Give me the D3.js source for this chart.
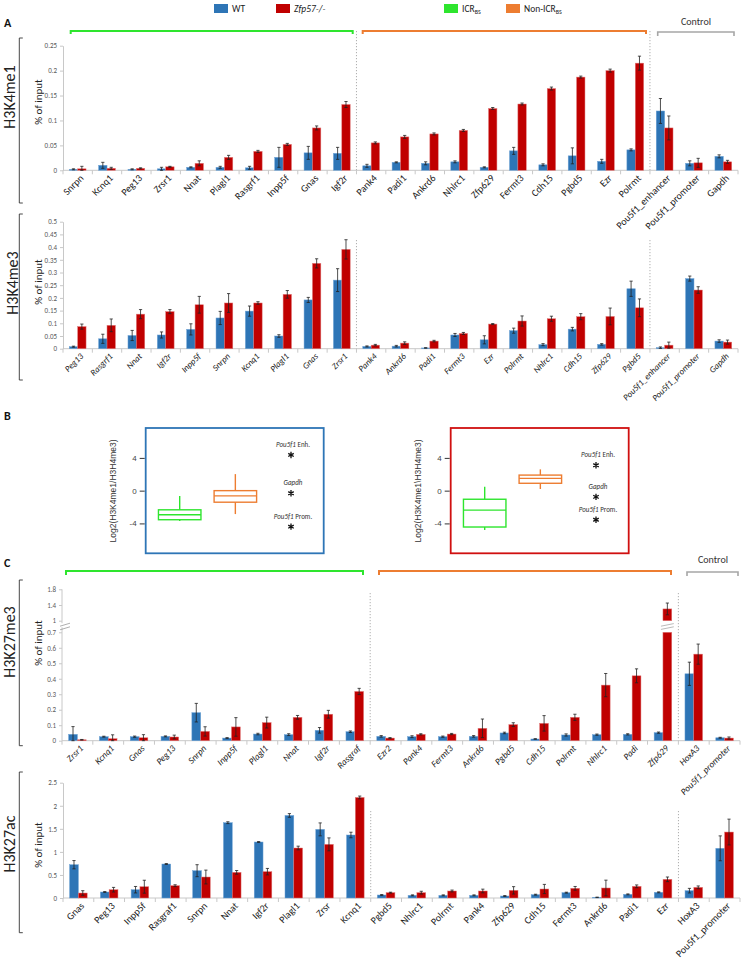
<!DOCTYPE html>
<html><head><meta charset="utf-8">
<script src="https://cdn.jsdelivr.net/npm/d3@7"></script>
<style>body{margin:0;background:#fff}svg{display:block}</style>
</head><body><svg id="c" width="742" height="961"></svg>
<script>
// ---------- DATA ----------
const seriesNames = ["WT", "Zfp57-/-"];
const groupNames = ["ICR", "Non-ICR"];

// Panel A – H3K4me1
const k4me1Cats = ["Snrpn","Kcnq1","Peg13","Zrsr1","Nnat","Plagl1","Rasgrf1","Inpp5f","Gnas","Igf2r","Pank4","Padi1","Ankrd6","Nhlrc1","Zfp629","Fermt3","Cdh15","Pgbd5","Ezr","Polrmt","Pou5f1_enhancer","Pou5f1_promoter","Gapdh"];
const k4me1WT = [0.002,0.010,0.002,0.003,0.006,0.006,0.005,0.026,0.035,0.034,0.009,0.016,0.014,0.017,0.006,0.039,0.011,0.029,0.018,0.041,0.119,0.014,0.028];
const k4me1WTErr = [0.001,0.006,0.001,0.003,0.001,0.002,0.003,0.020,0.013,0.012,0.003,0.001,0.003,0.002,0.001,0.007,0.002,0.016,0.004,0.002,0.025,0.005,0.003];
const k4me1KO = [0.003,0.004,0.004,0.007,0.014,0.026,0.038,0.052,0.085,0.132,0.055,0.067,0.073,0.080,0.124,0.133,0.164,0.187,0.200,0.215,0.085,0.015,0.017];
const k4me1KOErr = [0.005,0.002,0.001,0.001,0.005,0.004,0.002,0.002,0.004,0.006,0.002,0.003,0.002,0.002,0.002,0.002,0.003,0.002,0.003,0.014,0.024,0.009,0.003];
const k4me1Ticks = [0,0.05,0.1,0.15,0.2,0.25];

// Panel A – H3K4me3
const k4me3Cats = ["Peg13","Rasgrf1","Nnat","Igf2r","Inpp5f","Snrpn","Kcnq1","Plagl1","Gnas","Zrsr1","Pank4","Ankrd6","Padi1","Fermt3","Ezr","Polrmt","Nhlrc1","Cdh15","Zfp629","Pgbd5","Pou5f1_enhancer","Pou5f1_promoter","Gapdh"];
const k4me3WT = [0.008,0.039,0.052,0.054,0.076,0.121,0.148,0.050,0.192,0.270,0.009,0.010,0.003,0.054,0.035,0.071,0.016,0.077,0.017,0.236,0.004,0.276,0.030];
const k4me3WTErr = [0.002,0.018,0.020,0.012,0.022,0.026,0.020,0.005,0.010,0.045,0.002,0.003,0.001,0.006,0.016,0.010,0.004,0.007,0.003,0.030,0.003,0.010,0.005];
const k4me3KO = [0.087,0.092,0.136,0.146,0.173,0.180,0.180,0.214,0.336,0.391,0.014,0.022,0.030,0.060,0.097,0.109,0.118,0.126,0.127,0.161,0.014,0.231,0.026];
const k4me3KOErr = [0.010,0.025,0.018,0.008,0.033,0.037,0.005,0.015,0.018,0.038,0.003,0.005,0.003,0.004,0.002,0.020,0.010,0.012,0.033,0.035,0.012,0.013,0.008];
const k4me3Ticks = [0,0.05,0.1,0.15,0.2,0.25,0.3,0.35,0.4,0.45,0.5];

// Panel B – log2(H3K4me1/H3K4me3): [min, q1, median, q3, max]
const bWtICR = [-3.7,-3.55,-2.95,-2.34,-0.64];
const bWtNonICR = [-2.86,-1.41,-0.64,0.0,2.02];
const bKoICR = [-4.8,-4.44,-2.38,-1.05,0.49];
const bKoNonICR = [0.2,0.9,1.5,1.9,2.6];
const bCtrlNames = ["Enh.","Gapdh","Prom."];
const bWtCtrl = [4.36,-0.32,-4.4];
const bKoCtrl = [3.1,-0.76,-3.55];
const bTicks = [-4,0,4];

// Panel C – H3K27me3
const k27me3Cats = ["Zrsr1","Kcnq1","Gnas","Peg13","Snrpn","Inpp5f","Plagl1","Nnat","Igf2r","Rasgraf","Ezr2","Pank4","Fermt3","Ankrd6","Pgbd5","Cdh15","Polrmt","Nhlrc1","Padi","Zfp629","HoxA3","Pou5f1_promoter"];
const k27me3WT = [0.041,0.026,0.026,0.028,0.181,0.017,0.043,0.039,0.067,0.058,0.028,0.026,0.026,0.028,0.050,0.011,0.037,0.039,0.041,0.052,0.432,0.019];
const k27me3WTErr = [0.050,0.003,0.004,0.003,0.060,0.003,0.005,0.006,0.018,0.005,0.005,0.006,0.004,0.005,0.005,0.002,0.007,0.004,0.004,0.004,0.075,0.003];
const k27me3KO = [0.006,0.013,0.019,0.024,0.060,0.089,0.117,0.151,0.171,0.318,0.017,0.041,0.043,0.080,0.104,0.112,0.151,0.359,0.419,1.30,0.559,0.017];
const k27me3KOErr = [0.002,0.025,0.020,0.012,0.030,0.060,0.035,0.012,0.025,0.020,0.003,0.004,0.004,0.060,0.012,0.050,0.020,0.075,0.045,0.150,0.065,0.007];
const k27me3LowTicks = [0,0.1,0.2,0.3,0.4,0.5,0.6,0.7];
const k27me3HighTicks = [1,1.4,1.8];

// Panel C – H3K27ac
const k27acCats = ["Gnas","Peg13","Inpp5f","Rasgraf1","Snrpn","Nnat","Igf2r","Plagl1","Zrsr","Kcnq1","Pgbd5","Nhlrc1","Polrmt","Pank4","Zfp629","Cdh15","Fermt3","Ankrd6","Padi1","Ezr","HoxA3","Pou5f1_promoter"];
const k27acWT = [0.722,0.13,0.18,0.737,0.592,1.633,1.214,1.79,1.488,1.366,0.065,0.058,0.058,0.058,0.043,0.072,0.116,0.014,0.079,0.123,0.159,1.077];
const k27acWTErr = [0.09,0.01,0.07,0.01,0.13,0.02,0.01,0.04,0.14,0.06,0.01,0.01,0.01,0.01,0.01,0.01,0.01,0.005,0.01,0.01,0.05,0.27];
const k27acKO = [0.108,0.18,0.245,0.267,0.455,0.556,0.571,1.084,1.163,2.18,0.116,0.116,0.152,0.152,0.166,0.195,0.21,0.217,0.253,0.405,0.231,1.43];
const k27acKOErr = [0.05,0.05,0.14,0.02,0.15,0.04,0.07,0.04,0.14,0.03,0.01,0.03,0.02,0.04,0.08,0.1,0.04,0.17,0.03,0.05,0.03,0.28];
const k27acTicks = [0,0.5,1,1.5,2,2.5];

// ---------- STYLE ----------
const FONT = "Carlito, Lato, 'Liberation Sans', sans-serif";
const WT_C = "#2E75B6", KO_C = "#C00000";
const GREEN = "#2ee52e", ORANGE = "#ED7D31", GRAY = "#a6a6a6", AXIS = "#c8c8c8", TICKTXT = "#595959";

const svg = d3.select("#c").style("font-family", FONT);

function hBracket(x1, x2, y, color, w, drop) {
  svg.append("path").attr("d", `M${x1},${y + drop}V${y}H${x2}V${y + drop}`)
    .attr("fill", "none").attr("stroke", color).attr("stroke-width", w);
}
function leftBracket(x, y1, y2) {
  svg.append("path").attr("d", `M${x + 3.5},${y1}H${x}V${y2}H${x + 3.5}`)
    .attr("fill", "none").attr("stroke", "#333").attr("stroke-width", 0.9);
}
function rotText(x, y, txt, size) {
  svg.append("text").attr("transform", `translate(${x},${y}) rotate(-90)`)
    .attr("text-anchor", "middle").attr("font-size", size).attr("fill", "#222").text(txt);
}

function barPanel(o) {
  const g = svg.append("g");
  const x = d3.scaleBand().domain(o.cats).range([o.x0, o.x1]);
  const xs = d3.scaleBand().domain(seriesNames).range([0, x.bandwidth()]).paddingOuter(0.75);
  const yLow = o.yLow, yHigh = o.yHigh;
  const lowMax = yLow.domain()[1];
  const yMap = v => (yHigh && v > lowMax) ? yHigh(Math.max(v, yHigh.domain()[0])) : yLow(v);
  const base = yLow(0);

  // separators
  [10, 20].forEach(i => {
    const sx = x(o.cats[i]);
    g.append("line").attr("x1", sx).attr("x2", sx).attr("y1", o.sepTop).attr("y2", base)
      .attr("stroke", "#9a9a9a").attr("stroke-width", 0.8).attr("stroke-dasharray", "1.2,1.8");
  });

  // y axis
  const ax = d3.axisLeft(yLow).tickValues(o.lowTicks).tickSize(3).tickSizeOuter(0)
    .tickFormat(d => String(d));
  const ag = g.append("g").attr("transform", `translate(${o.x0},0)`).call(ax);
  if (yHigh) {
    const ag2 = g.append("g").attr("transform", `translate(${o.x0},0)`)
      .call(d3.axisLeft(yHigh).tickValues(o.highTicks).tickSize(3).tickSizeOuter(0).tickFormat(d => String(d)));
    [ag, ag2].forEach(a => a.select(".domain").remove());
    g.append("line").attr("x1", o.x0).attr("x2", o.x0).attr("y1", yHigh.range()[1]).attr("y2", yHigh.range()[0] + 2.5)
      .attr("stroke", AXIS);
    g.append("line").attr("x1", o.x0).attr("x2", o.x0).attr("y1", yLow.range()[1] - 5).attr("y2", base)
      .attr("stroke", AXIS);
    const my = (yHigh.range()[0] + yLow.range()[1]) / 2;
    [-1.8, 1.8].forEach(d => g.append("line").attr("x1", o.x0 - 2).attr("x2", o.x0 + 8)
      .attr("y1", my + d + 1.5).attr("y2", my + d - 1.5).attr("stroke", "#999").attr("stroke-width", 0.8));
  }
  g.selectAll(".domain").attr("stroke", AXIS);
  g.selectAll(".tick line").attr("stroke", AXIS);
  g.selectAll(".tick text").attr("fill", TICKTXT).attr("font-size", 7).attr("font-family", FONT);

  // baseline
  g.append("line").attr("x1", o.x0).attr("x2", o.x1).attr("y1", base).attr("y2", base).attr("stroke", AXIS);
  o.cats.forEach(c => g.append("line").attr("x1", x(c)).attr("x2", x(c)).attr("y1", base).attr("y2", base + 4).attr("stroke", AXIS));
  g.append("line").attr("x1", o.x1).attr("x2", o.x1).attr("y1", base).attr("y2", base + 4).attr("stroke", AXIS);

  // bars
  const series = [
    { key: seriesNames[0], vals: o.wt, errs: o.wtErr, color: WT_C, edge: "#6fa3d6" },
    { key: seriesNames[1], vals: o.ko, errs: o.koErr, color: KO_C, edge: "#e07a7a" }
  ];
  series.forEach(s => {
    const data = o.cats.map((c, i) => ({ c, v: s.vals[i], e: s.errs[i] }));
    data.forEach(d => {
      const bx = x(d.c) + xs(s.key), bw = xs.bandwidth();
      if (yHigh && d.v > lowMax) {
        g.append("rect").attr("x", bx).attr("y", yLow(lowMax)).attr("width", bw)
          .attr("height", base - yLow(lowMax)).attr("fill", s.color).attr("stroke", s.edge).attr("stroke-width", 0.5);
        const y0h = yHigh(yHigh.domain()[0]);
        g.append("rect").attr("x", bx).attr("y", yHigh(d.v)).attr("width", bw)
          .attr("height", y0h - yHigh(d.v)).attr("fill", s.color).attr("stroke", s.edge).attr("stroke-width", 0.5);
        const my = (y0h + yLow(lowMax)) / 2;
        [-1.6, 1.6].forEach(dd => g.append("line").attr("x1", bx - 2).attr("x2", bx + bw + 2)
          .attr("y1", my + dd + 1.3).attr("y2", my + dd - 1.3).attr("stroke", "#aaa").attr("stroke-width", 0.8));
      } else {
        g.append("rect").attr("x", bx).attr("y", yMap(d.v)).attr("width", bw)
          .attr("height", base - yMap(d.v)).attr("fill", s.color).attr("stroke", s.edge).attr("stroke-width", 0.5);
      }
      const cx = bx + bw / 2, yt = yMap(d.v + d.e), yb = yMap(Math.max(0, d.v - d.e));
      g.append("line").attr("x1", cx).attr("x2", cx).attr("y1", yt).attr("y2", yb).attr("stroke", "#222").attr("stroke-width", 0.8);
      [yt, yb].forEach(yy => g.append("line").attr("x1", cx - 1.6).attr("x2", cx + 1.6).attr("y1", yy).attr("y2", yy)
        .attr("stroke", "#222").attr("stroke-width", 0.8));
    });
  });

  // x labels
  o.cats.forEach(c => {
    const cx = x(c) + x.bandwidth() / 2;
    g.append("text").attr("transform", `translate(${cx + 4},${base + 6}) rotate(-45)`)
      .attr("text-anchor", "end").attr("dy", "0.35em").attr("font-size", o.labelSize)
      .attr("font-style", o.italic ? "italic" : "normal").attr("fill", "#222").text(c);
  });
}

function boxPanel(o) {
  const g = svg.append("g");
  const y = d3.scaleLinear().domain([-7.65, 7.65]).range([553.3, 428]);
  const px = d3.scalePoint().domain([...groupNames, "ctrl"]).range([o.x0 + 34, o.x0 + 145.3]);
  g.append("rect").attr("x", o.x0).attr("y", y(7.65)).attr("width", 178).attr("height", y(-7.65) - y(7.65))
    .attr("fill", "none").attr("stroke", o.frame).attr("stroke-width", 1.8);
  const ax = g.append("g").attr("transform", `translate(${o.x0 - 1},0)`)
    .call(d3.axisLeft(y).tickValues(bTicks).tickSize(5).tickFormat(d => String(d)));
  ax.select(".domain").remove();
  ax.selectAll(".tick line").attr("stroke", "#333");
  ax.selectAll(".tick text").attr("font-size", 8).attr("fill", "#444").attr("font-family", "'Liberation Sans', sans-serif");
  g.append("text").attr("transform", `translate(${o.x0 - 30},491) rotate(-90)`).attr("text-anchor", "middle")
    .attr("font-size", 8.5).attr("fill", "#333").attr("font-family", "'Liberation Sans', sans-serif").text(o.ylabel);
  const bw = 42.5;
  [[groupNames[0], o.icr, GREEN], [groupNames[1], o.non, ORANGE]].forEach(([k, s, col]) => {
    const cx = px(k);
    g.append("line").attr("x1", cx).attr("x2", cx).attr("y1", y(s[4])).attr("y2", y(s[3])).attr("stroke", col).attr("stroke-width", 1.4);
    g.append("line").attr("x1", cx).attr("x2", cx).attr("y1", y(s[1])).attr("y2", y(s[0])).attr("stroke", col).attr("stroke-width", 1.4);
    g.append("rect").attr("x", cx - bw / 2).attr("y", y(s[3])).attr("width", bw).attr("height", y(s[1]) - y(s[3]))
      .attr("fill", "none").attr("stroke", col).attr("stroke-width", 1.4);
    g.append("line").attr("x1", cx - bw / 2).attr("x2", cx + bw / 2).attr("y1", y(s[2])).attr("y2", y(s[2])).attr("stroke", col).attr("stroke-width", 1.4);
  });
  const sym = d3.symbol().type(d3.symbolAsterisk || d3.symbolCross).size(28);
  const cx = px("ctrl");
  o.ctrl.forEach((v, i) => {
    g.append("path").attr("d", sym()).attr("transform", `translate(${cx},${y(v)})`)
      .attr("fill", "#111").attr("stroke", "#111").attr("stroke-width", 1.3);
    const t = g.append("text").attr("x", cx + 2).attr("y", y(v) - 8).attr("text-anchor", "middle")
      .attr("font-size", 7).attr("fill", "#333");
    if (bCtrlNames[i] === "Gapdh") t.append("tspan").attr("font-style", "italic").text("Gapdh");
    else { t.append("tspan").attr("font-style", "italic").text("Pou5f1"); t.append("tspan").text(" " + bCtrlNames[i]); }
  });
}

// ---------- LEGEND ----------
function legendItem(x, color, label, italic, sub) {
  svg.append("rect").attr("x", x).attr("y", 4).attr("width", 14).attr("height", 9).attr("fill", color);
  const t = svg.append("text").attr("x", x + 18).attr("y", 12).attr("font-size", 9.5).attr("fill", "#222");
  t.append("tspan").attr("font-style", italic ? "italic" : "normal").text(label);
  if (sub) t.append("tspan").attr("font-size", 6).attr("dy", 2).text(sub);
}
legendItem(214, WT_C, seriesNames[0], false);
legendItem(276, KO_C, seriesNames[1], true);
legendItem(444, GREEN, "ICR", false, "BS");
legendItem(506, ORANGE, "Non-ICR", false, "BS");

// panel letters
[["A", 4, 27], ["B", 4, 420], ["C", 4, 567]].forEach(([t, x, y]) =>
  svg.append("text").attr("x", x).attr("y", y).attr("font-size", 12).attr("font-weight", "bold").attr("fill", "#111").text(t));

// ---------- PANEL A ----------
hBracket(70.7, 352.7, 31, GREEN, 2, 3);
hBracket(362.7, 646, 31, ORANGE, 2, 3);
hBracket(657.7, 734, 32, GRAY, 1.6, 4);
svg.append("text").attr("x", 696).attr("y", 25).attr("text-anchor", "middle").attr("font-size", 10).attr("fill", "#333").text("Control");

barPanel({ cats: k4me1Cats, wt: k4me1WT, wtErr: k4me1WTErr, ko: k4me1KO, koErr: k4me1KOErr,
  x0: 63, x1: 738, yLow: d3.scaleLinear().domain([0, 0.25]).range([170.3, 45.7]), lowTicks: k4me1Ticks,
  sepTop: 31, labelSize: 10, italic: false });
leftBracket(19.3, 38, 203);
rotText(15, 97, "H3K4me1", 16);
rotText(42, 102, "% of input", 11);

barPanel({ cats: k4me3Cats, wt: k4me3WT, wtErr: k4me3WTErr, ko: k4me3KO, koErr: k4me3KOErr,
  x0: 63, x1: 738, yLow: d3.scaleLinear().domain([0, 0.5]).range([348.7, 221.7]), lowTicks: k4me3Ticks,
  sepTop: 240, labelSize: 8.8, italic: true });
leftBracket(19.3, 214, 380);
rotText(18, 283, "H3K4me3", 16);
rotText(42, 282, "% of input", 11);

// ---------- PANEL B ----------
boxPanel({ x0: 145.7, frame: "#2E75B6", icr: bWtICR, non: bWtNonICR, ctrl: bWtCtrl, ylabel: "Log2(H3K4me1/H3H4me3)" });
boxPanel({ x0: 450.7, frame: "#D01010", icr: bKoICR, non: bKoNonICR, ctrl: bKoCtrl, ylabel: "Log2(H3K4me1\\H3H4me3)" });

// ---------- PANEL C ----------
hBracket(66, 363, 571, GREEN, 2, 4);
hBracket(379, 671, 571, ORANGE, 2, 4);
hBracket(687, 738, 572, GRAY, 1.6, 4);
svg.append("text").attr("x", 713).attr("y", 563).attr("text-anchor", "middle").attr("font-size", 10).attr("fill", "#333").text("Control");

barPanel({ cats: k27me3Cats, wt: k27me3WT, wtErr: k27me3WTErr, ko: k27me3KO, koErr: k27me3KOErr,
  x0: 62, x1: 740, yLow: d3.scaleLinear().domain([0, 0.7]).range([740.7, 632.3]),
  yHigh: d3.scaleLinear().domain([1, 1.8]).range([620.7, 589.3]),
  lowTicks: k27me3LowTicks, highTicks: k27me3HighTicks, sepTop: 593, labelSize: 9.2, italic: true });
leftBracket(19.3, 580, 745.7);
rotText(15, 642, "H3K27me3", 16);
rotText(42, 643, "% of input", 11);

barPanel({ cats: k27acCats, wt: k27acWT, wtErr: k27acWTErr, ko: k27acKO, koErr: k27acKOErr,
  x0: 63, x1: 740, yLow: d3.scaleLinear().domain([0, 2.5]).range([898, 782.7]), lowTicks: k27acTicks,
  sepTop: 811, labelSize: 10, italic: false });
leftBracket(19.3, 772, 932.7);
rotText(15, 844, "H3K27ac", 16);
rotText(42, 845, "% of input", 11);
</script>
</body></html>
